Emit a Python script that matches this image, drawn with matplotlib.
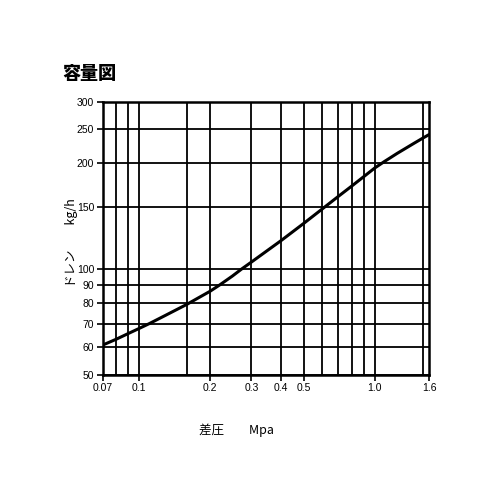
import matplotlib.pyplot as plt
from matplotlib.ticker import FixedLocator, NullFormatter

plt.rcParams['font.family'] = ['Liberation Sans', 'Noto Sans CJK JP', 'DejaVu Sans']

# curve: pressure difference (MPa) vs drain (kg/h)
pressure = [0.07, 0.08, 0.09, 0.1, 0.111, 0.13, 0.16, 0.181, 0.2, 0.22,
            0.249, 0.273, 0.3, 0.344, 0.4, 0.5, 0.6, 0.7, 0.8, 0.9,
            1.0, 1.1, 1.245, 1.466, 1.6, 1.7]
drain = [60.8, 63.2, 65.6, 67.8, 70.1, 74, 79.5, 83.3, 86.5, 90.2,
         95.6, 100.2, 104.8, 112, 120.5, 135, 148.5, 161, 172.5, 183.5,
         194, 202.5, 213.5, 228, 236, 241.5]

x_grid = [0.08, 0.09, 0.1, 0.16, 0.2, 0.3, 0.4, 0.5, 0.6, 0.7, 0.8, 0.9, 1.0, 1.6]
x_ticks = [0.07, 0.1, 0.2, 0.3, 0.4, 0.5, 1.0, 1.7]
x_labels = ['0.07', '0.1', '0.2', '0.3', '0.4', '0.5', '1.0', '1.6']
y_ticks = [50, 60, 70, 80, 90, 100, 150, 200, 250, 300]

fig = plt.figure(figsize=(5, 5), dpi=100)
ax = fig.add_axes([0.205, 0.25, 0.653, 0.547])

ax.set_xscale('log')
ax.set_yscale('log')
ax.set_xlim(0.07, 1.7)
ax.set_ylim(50, 300)

for xv in x_grid:
    ax.axvline(xv, color='black', lw=1.3, zorder=1)
for yv in y_ticks:
    ax.axhline(yv, color='black', lw=1.3, zorder=1)

ax.plot(pressure, drain, color='black', lw=2.2, zorder=3,
        solid_joinstyle='round', solid_capstyle='round')

ax.xaxis.set_major_locator(FixedLocator(x_ticks))
ax.set_xticklabels(x_labels)
ax.xaxis.set_minor_formatter(NullFormatter())
ax.xaxis.set_minor_locator(FixedLocator([]))
ax.yaxis.set_major_locator(FixedLocator(y_ticks))
ax.set_yticklabels([str(v) for v in y_ticks])
ax.yaxis.set_minor_formatter(NullFormatter())
ax.yaxis.set_minor_locator(FixedLocator([]))
ax.tick_params(length=4, width=1.2, labelsize=7.5, pad=2)

for s in ax.spines.values():
    s.set_linewidth(1.8)

fig.text(0.124, 0.853, '容量図', fontsize=13, fontweight='heavy',
         family=['Noto Sans CJK JP'], va='center')
fig.text(0.142, 0.515, 'ドレン　　kg/h', fontsize=9, rotation=90,
         family=['Noto Sans CJK JP'], ha='center', va='center')
fig.text(0.472, 0.14, '差圧　　Mpa', fontsize=9,
         family=['Noto Sans CJK JP'], ha='center', va='center')

fig.savefig('out.png', dpi=100)
